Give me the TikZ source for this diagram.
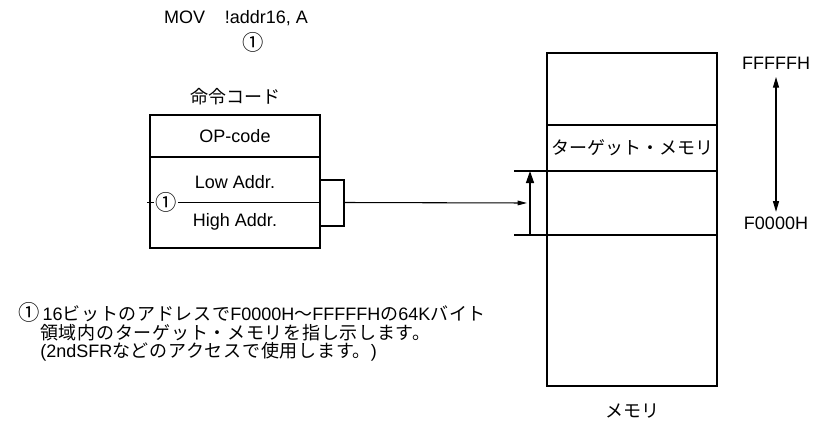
\documentclass[tikz,border=0pt]{standalone}
\usepackage{fontspec}
\setmainfont{Liberation Sans}
\newfontfamily\jp{Noto Sans CJK JP}
\newfontfamily\jpw[LetterSpace=4]{Noto Sans CJK JP}
\usepackage{tikz}
\usetikzlibrary{arrows.meta,positioning,calc}
\newcommand\circone{{\jp\fontsize{16}{15}\selectfont ①}}
\tikzset{
  cell/.style={rectangle, draw, line width=0.8pt, minimum width=127.5pt,
               inner sep=0pt, outer sep=0pt, font=\fontsize{13.5}{15}\selectfont},
  txt/.style={inner sep=0pt, font=\fontsize{13.5}{15}\selectfont},
  jtxt/.style={inner sep=0pt, font=\jp\fontsize{13.5}{15}\selectfont},
  arr/.style={-{Triangle[length=7pt, width=3.5pt]}, line width=0.8pt},
  uparr/.style={-{Triangle[length=9pt, width=6pt]}, line width=1pt},
  dbl/.style={{Triangle[length=8pt, width=4.5pt]}-{Triangle[length=8pt, width=4.5pt]}, line width=0.8pt},
}
\begin{document}
\begin{tikzpicture}[x=0.75pt, y=-0.75pt]
    \useasboundingbox (0,0) rectangle (814,421);
    % instruction
    \node[txt] (mov) at (236,18) {MOV\hspace{1.1em}!addr16, A};
    \node[txt] (mark) at (253,42) {\circone};
    \node[jtxt] (title) at (235,97) {命令コード};
    \node[cell, minimum height=31.5pt, anchor=north] (op) at (235,115) {OP-code};
    \node[cell, minimum height=68.25pt, below=0pt of op] (addr) {};
    \node[txt] (lo) at ($(addr.center)+(0,-20.5)$) {Low Addr.};
    \node[txt] (hi) at ($(addr.center)+(0,19.5)$) {High Addr.};
    \draw[line width=0.8pt] ($(addr.west)+(-3,0)$) -- node[pos=0.11, fill=white, inner sep=1pt] (mk) {\circone} (addr.east);
    \coordinate (brk) at ($(addr.east)+(24,0)$);
    \draw[line width=0.8pt] ($(addr.east)+(0,-22.5)$) -| ($(brk)+(0,23.5)$) -- ($(addr.east)+(0,23.5)$);
    % memory
    \node[cell, minimum height=54pt, anchor=north] (mtop) at (632,53) {};
    \node[cell, minimum height=34.5pt, below=0pt of mtop, font=\jp\fontsize{13.5}{15}\selectfont] (mtgt) {ターゲット・メモリ};
    \node[cell, minimum height=48pt, below=0pt of mtgt] (msel) {};
    \node[cell, minimum height=113.25pt, below=0pt of msel] (mbot) {};
    \node[jtxt] (memlbl) at (632,411) {メモリ};
    \draw[line width=0.8pt] (msel.north west) -- +(-33,0);
    \draw[line width=0.8pt] (msel.south west) -- +(-33,0);
    \draw[uparr] ($(msel.south west)+(-17,0)$) -- ($(msel.north west)+(-17,0)$);
    \draw[arr] (brk) -- ($(msel.west)+(-20,0)$);
    % range
    \node[txt] (ffh) at (776,63) {FFFFFH};
    \node[txt] (f0h) at (776,223) {F0000H};
    \draw[dbl] ($(ffh.south)+(0,7.5)$) -- ($(f0h.north)+(0,-4.5)$);
    % note
    \node[txt, anchor=west] (note1) at (18,312) {\circone\,16{\jpw ビットのアドレスで}F0000H{\jpw ～}FFFFFH{\jpw の}64K{\jpw バイト}};
    \node[txt, anchor=west] (note2) at (40,333) {{\jpw 領域内のターゲット・メモリを指し示します。}};
    \node[txt, anchor=west] (note3) at (40,352) {(2ndSFR{\jpw などのアクセスで使用します。})};
\end{tikzpicture}
\end{document}
